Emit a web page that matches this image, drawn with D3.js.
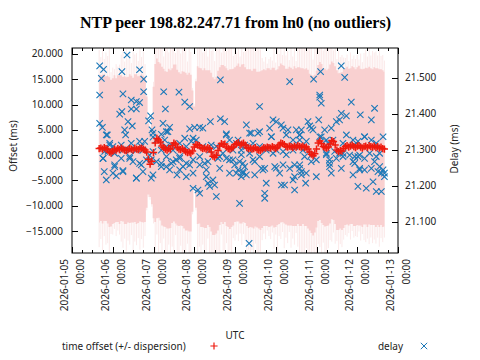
<!DOCTYPE html>
<html><head><meta charset="utf-8">
<script src="https://cdn.jsdelivr.net/npm/d3@7"></script>
<style>body{margin:0;background:#fff}svg{display:block}text{font-family:"Noto Sans",sans-serif;font-size:10px;fill:#222}</style>
</head><body><svg id="c" width="480" height="360"></svg>
<script>
// ---- data (hourly samples from 2026-01-05 16:00 UTC) ----
const startTime = "2026-01-05T16:00:00Z";
const dayTicks = ["2026-01-05","2026-01-06","2026-01-07","2026-01-08","2026-01-09","2026-01-10","2026-01-11","2026-01-12","2026-01-13"];
const offsetTicks = [-15,-10,-5,0,5,10,15,20];
const delayTicks = [21.1,21.2,21.3,21.4,21.5];
const offsetMs = [1.3,1.4,1.2,1.5,1.3,1.1,0.6,0.4,0.8,1.2,1.0,1.3,1.1,1.4,1.2,1.0,0.9,1.1,1.3,1.2,1.0,1.4,1.2,1.1,1.3,
1.4,1.2,1.0,0.6,-0.8,-1.8,-1.2,0.5,2.4,3.3,3.0,2.6,1.8,1.5,1.2,1.0,1.3,1.2,1.9,2.4,2.2,1.5,1.2,1.1,1.3,
1.0,0.7,0.5,0.6,0.4,0.8,1.6,2.1,2.0,1.9,1.5,1.3,1.4,1.2,1.5,1.3,0.6,-0.2,-0.4,0.0,0.9,1.8,2.3,2.1,2.2,
1.6,1.3,1.2,1.4,1.6,2.1,2.3,2.5,2.0,2.2,2.4,2.0,1.5,1.3,1.4,1.2,1.3,1.5,1.1,1.0,0.9,1.2,1.5,1.4,1.6,
1.5,1.4,1.7,1.5,1.3,1.6,2.0,2.4,2.3,2.1,1.7,1.6,1.8,1.7,1.5,1.8,1.6,1.9,1.7,1.6,1.8,1.5,1.6,1.2,0.6,
0.2,-0.1,0.3,1.2,2.4,2.8,2.3,1.7,1.5,1.4,1.6,2.2,2.9,2.7,2.0,1.0,0.7,0.9,0.8,1.3,1.7,1.9,1.6,1.8,2.0,
1.7,1.5,1.8,1.9,1.6,1.4,1.7,1.8,1.5,1.9,1.7,1.6,1.8,1.5,1.7,1.4,1.6,1.3,1.2];
const dispersionMs = [14.6,14.4,14.7,14.5,14.3,14.6,14.8,14.5,14.4,14.6,14.2,14.5,14.7,14.4,14.3,14.6,14.5,14.4,14.7,14.5,14.3,14.6,14.8,14.5,14.4,14.6,14.5,14.2,
11.0,7.0,6.5,8.5,13.0,
15.6,15.8,15.4,15.5,15.7,15.6,15.4,15.5,15.8,15.6,15.3,15.5,15.7,15.4,15.2,15.0,15.3,15.5,15.6,15.4,15.7,15.5,
12.0,8.0,12.5,
15.6,15.4,15.7,15.5,15.8,15.6,15.3,15.5,15.7,15.6,15.4,15.5,15.8,15.6,15.5,15.7,15.4,15.6,15.5,15.8,
15.6,15.5,15.3,15.4,15.6,15.5,15.7,15.6,15.4,15.5,15.7,15.6,15.5,15.8,15.6,15.4,15.5,15.7,15.6,15.5,
15.4,15.6,15.7,15.5,15.6,15.8,15.5,15.4,15.6,15.7,15.5,15.6,15.4,15.5,15.7,15.6,15.5,15.8,15.6,15.5,
15.7,15.6,15.4,15.5,15.6,15.7,15.5,15.6,15.8,15.6,15.5,15.4,15.6,15.7,15.5,15.6,15.4,15.5,15.7,15.6,
15.5,15.6,15.8,15.5,15.4,15.6,15.7,15.5,15.6,15.5,15.4,15.6,15.7,15.5,15.6,15.8,15.5,15.6,15.4,15.5,
15.7,15.6,15.5,15.4,15.6,15.7,15.5,15.6,15.4,15.5,15.3];
const dispersionMaxMs = [19.5,18.0,20.0,17.5,19.0,18.5,20.5,
16.0,16.5,15.8,17.0,16.2,16.8,
18.5,19.5,17.5,20.0,18.0,19.0,17.0,20.5,18.5,19.0,17.5,20.0,18.0,19.5,17.0,
11.5,7.5,7.0,9.0,14.0,
22,19,23,20,22,18,23,21,19,22,20,23,18,21,22,19,23,20,21,18,22,20,
12.5,8.5,13.0,
22,20,23,19,21,22,18,23,20,21,19,22,20,23,18,21,22,19,21,20,22,18,
19,18,19.5,17.5,20,18,19,22,20,
22,20,23,19,21,22,20,18,
17,18,16.5,17.5,18,17,
20,17,21,18,19,17.5,20.5,18,19,17,20,18,19.5,17,20,
22,23,21,22,20,23,21,22,19,23,22,20,21,23,19,22,21,20,
19,20,18,19.5,18,20,18.5,19,18,
17.5,18,17,18.5,17,18,17.5,18,17,18.5,17,
18.5,19,18,19.5,18,19,18.5,19,18,19.5,18,18.5,17.5];
const delayHours = [16.4,0.3,2.6,1.3,13.4,23.8,26.2,0.3,14.0,26.2,38.0,47.0,39.0,50.4,53.3,71.4,18.9,21.9,23.8,18.9,
21.9,12.1,13.4,30.3,29.1,0.3,1.9,17.0,19.5,37.6,41.5,39.6,31.1,15.0,15.6,4.8,53.3,56.2,59.2,61.1,
65.5,71.4,73.9,86.7,74.9,31.7,36.6,33.7,50.4,54.3,6.2,8.1,13.0,18.9,23.8,24.8,3.2,5.2,9.1,14.0,
18.0,21.9,25.8,31.7,36.6,39.6,43.5,47.4,51.3,57.2,61.1,65.1,69.0,72.9,76.8,78.8,81.8,83.7,86.7,2.3,
18.0,24.8,29.7,30.7,33.7,36.6,39.6,42.5,45.4,47.4,49.4,53.3,55.3,59.2,62.1,70.9,74.9,76.8,79.8,82.7,
85.7,3.0,4.2,9.1,8.1,10.1,14.0,21.9,25.8,31.7,45.8,51.3,55.3,58.2,59.2,63.1,64.1,65.1,67.0,68.0,
69.0,80.8,83.7,84.7,86.7,82.7,88.3,
142.6,130.4,144.6,126.3,112.2,129.9,129.9,130.8,148.5,94.5,162.2,153.8,160.3,142.6,145.6,141.6,139.7,123.0,124.0,129.3,
124.9,125.9,132.8,136.7,102.4,104.3,107.3,100.4,94.5,93.5,108.3,111.2,116.1,118.1,119.1,110.2,167.2,156.3,160.3,149.5,
152.4,145.6,130.8,133.8,137.7,143.6,122.0,118.1,114.2,101.4,88.6,90.6,94.5,98.4,104.3,108.3,114.2,120.0,124.9,127.9,
133.8,138.7,141.6,143.6,147.5,150.5,153.4,156.3,159.3,163.2,165.2,167.2,164.2,166.2,168.0,90.6,91.6,95.5,97.5,103.4,
108.3,112.2,115.1,118.1,119.1,119.1,122.0,135.7,135.7,136.7,142.6,149.5,150.5,153.4,156.3,160.3,115.1,114.2,98.4,107.3,
109.2,115.1,121.6,152.4,157.3,161.3,163.2,166.2,97.5,97.5,
4.2,31.7,40.5,55.3,74.9,6.2,26.8,38.6,42.5,66.0,80.8,2.3,13.0,19.9,27.8,39.6,43.5,51.3,59.2,64.1,
70.0,78.8,84.7,9.1,14.0,23.8,36.6,41.5,47.4,55.3,63.1,71.0,76.8,81.8,21.9,30.7,18.0,47.4,
89.6,101.4,118.1,129.9,156.3,85.7,98.4,115.1,134.8,150.5,163.2,83.7,94.5,102.4,110.2,121.0,133.8,143.6,152.4,165.2,
91.6,104.3,118.1,124.9,135.7,149.5,162.2,84.7,96.5,106.3,127.9,153.4,168.0,139.7,88.6];
const delayMs = [21.563,21.533,21.523,21.498,21.517,21.522,21.496,21.452,21.455,21.461,21.461,21.460,21.413,21.432,21.420,21.494,21.438,21.434,21.431,21.413,
21.413,21.399,21.406,21.394,21.380,21.373,21.362,21.378,21.366,21.373,21.362,21.350,21.355,21.355,21.341,21.341,21.358,21.362,21.362,21.360,
21.378,21.386,21.378,21.369,21.344,21.335,21.343,21.327,21.332,21.323,21.318,21.309,21.313,21.318,21.323,21.309,21.295,21.295,21.290,21.299,
21.299,21.299,21.299,21.295,21.299,21.309,21.299,21.318,21.309,21.327,21.309,21.299,21.309,21.290,21.327,21.299,21.327,21.299,21.309,21.276,
21.276,21.258,21.285,21.272,21.267,21.262,21.253,21.262,21.272,21.281,21.253,21.258,21.272,21.281,21.262,21.281,21.276,21.272,21.258,21.267,
21.253,21.239,21.216,21.258,21.235,21.227,21.242,21.221,21.239,21.230,21.230,21.225,21.193,21.188,21.179,21.225,21.207,21.198,21.216,21.202,
21.170,21.235,21.225,21.239,21.230,21.151,21.040,
21.533,21.517,21.501,21.496,21.489,21.452,21.446,21.429,21.432,21.420,21.415,21.397,21.383,21.401,21.394,21.383,21.378,21.378,21.366,21.383,
21.360,21.355,21.355,21.360,21.383,21.378,21.369,21.360,21.350,21.346,21.360,21.355,21.355,21.341,21.355,21.341,21.336,21.336,21.327,21.327,
21.323,21.341,21.336,21.327,21.327,21.318,21.323,21.327,21.327,21.336,21.346,21.318,21.309,21.299,21.299,21.295,21.299,21.299,21.285,21.272,
21.290,21.295,21.290,21.281,21.285,21.281,21.285,21.276,21.290,21.281,21.253,21.244,21.239,21.235,21.225,21.272,21.230,21.248,21.248,21.253,
21.258,21.248,21.258,21.248,21.239,21.230,21.235,21.272,21.253,21.235,21.248,21.230,21.262,21.248,21.244,21.248,21.225,21.216,21.207,21.202,
21.202,21.188,21.207,21.198,21.193,21.211,21.184,21.184,21.179,21.165,
21.341,21.346,21.350,21.332,21.341,21.313,21.323,21.327,21.313,21.313,21.318,21.276,21.276,21.267,21.272,21.281,21.267,21.262,21.258,21.267,
21.276,21.272,21.262,21.253,21.239,21.262,21.253,21.244,21.244,21.235,21.244,21.248,21.235,21.244,21.221,21.221,21.281,21.276,
21.346,21.336,21.341,21.336,21.336,21.313,21.304,21.309,21.318,21.313,21.318,21.286,21.281,21.290,21.286,21.281,21.286,21.290,21.281,21.290,
21.267,21.249,21.258,21.267,21.262,21.267,21.267,21.235,21.244,21.235,21.225,21.244,21.235,21.276,21.290];

// ---- layout ----
const L = 72, R = 398, T = 48, B = 253;
const svg = d3.select("#c");
const t0 = new Date(startTime);
const hourToDate = h => new Date(t0.getTime() + h * 3600e3);
const x = d3.scaleUtc().domain([new Date(dayTicks[0] + "T00:00:00Z"), new Date(dayTicks[dayTicks.length - 1] + "T00:00:00Z")]).range([L, R]);
const yL = d3.scaleLinear().domain([-19.35, 21.186]).range([B, T]);
const yR = d3.scaleLinear().domain([21.0131, 21.5825]).range([B, T]);

svg.append("defs").append("clipPath").attr("id", "clip")
  .append("rect").attr("x", L).attr("y", T).attr("width", R - L).attr("height", B - T);

const samples = offsetMs.map((o, i) => ({ t: hourToDate(i), o, d: dispersionMs[i], m: dispersionMaxMs[i] }));
const plot = svg.append("g").attr("clip-path", "url(#clip)");

// dispersion spikes
plot.append("g").selectAll("line").data(samples).join("line")
  .attr("x1", d => x(d.t)).attr("x2", d => x(d.t))
  .attr("y1", d => yL(d.o + d.m)).attr("y2", d => yL(d.o - d.m))
  .attr("stroke", "#f5c4c4").attr("stroke-opacity", 0.38).attr("stroke-width", 1);
// dispersion core band
plot.append("path").datum(samples)
  .attr("d", d3.area().x(d => x(d.t)).y0(d => yL(d.o - d.d)).y1(d => yL(d.o + d.d)).curve(d3.curveStep))
  .attr("fill", "#f9d0d0");

// delay crosses
const cross = "M-3.2,-3.2L3.2,3.2M-3.2,3.2L3.2,-3.2";
const plus = "M-3.6,0H3.6M0,-3.6V3.6";
const blue = "#1a78b8", red = "#ee1a0e";
plot.append("g").selectAll("path").data(delayHours.map((h, i) => ({ t: hourToDate(h), v: delayMs[i] }))).join("path")
  .attr("transform", d => `translate(${x(d.t)},${yR(d.v)})`)
  .attr("d", cross).attr("stroke", blue).attr("stroke-width", 1.1).attr("fill", "none");
// offset pluses
plot.append("g").selectAll("path").data(samples).join("path")
  .attr("transform", d => `translate(${x(d.t)},${yL(d.o)})`)
  .attr("d", plus).attr("stroke", red).attr("stroke-width", 1.5).attr("fill", "none");

// ---- frame and ticks ----
const ax = svg.append("g").attr("stroke", "#000").attr("stroke-width", 1);
ax.append("rect").attr("x", L).attr("y", T).attr("width", R - L).attr("height", B - T).attr("fill", "none");
const minor = d3.utcHour.every(6).range(x.domain()[0], new Date(x.domain()[1].getTime() + 1));
minor.forEach(d => {
  const isMajor = d.getUTCHours() === 0;
  const len = isMajor ? 6 : 3;
  const px = Math.round(x(d)) + 0.5;
  ax.append("line").attr("x1", px).attr("x2", px).attr("y1", B).attr("y2", B - len);
  ax.append("line").attr("x1", px).attr("x2", px).attr("y1", T).attr("y2", T + len);
});
offsetTicks.forEach(v => {
  const py = Math.round(yL(v)) + 0.5;
  ax.append("line").attr("x1", L).attr("x2", L + 6).attr("y1", py).attr("y2", py);
});
delayTicks.forEach(v => {
  const py = Math.round(yR(v)) + 0.5;
  ax.append("line").attr("x1", R).attr("x2", R - 6).attr("y1", py).attr("y2", py);
});

const fmt = d3.format(".3f");
svg.append("g").selectAll("text").data(offsetTicks).join("text")
  .attr("x", 63).attr("y", d => yL(d)).attr("dy", "0.35em").attr("text-anchor", "end").text(d => fmt(d));
svg.append("g").selectAll("text").data(delayTicks).join("text")
  .attr("x", 405).attr("y", d => yR(d)).attr("dy", "0.35em").attr("text-anchor", "start").text(d => fmt(d));

const xl = svg.append("g");
dayTicks.forEach(s => {
  const px = x(new Date(s + "T00:00:00Z"));
  xl.append("text").attr("transform", `translate(${px - 7.5},259) rotate(-90)`).attr("dy", "0.35em")
    .attr("text-anchor", "end").text(s);
  xl.append("text").attr("transform", `translate(${px + 8.5},259) rotate(-90)`).attr("dy", "0.35em")
    .attr("text-anchor", "end").text("00:00");
});

// ---- titles & labels ----
svg.append("text").attr("x", 235.5).attr("y", 28).attr("text-anchor", "middle")
  .style("font-family", "'Liberation Serif',serif").style("font-size", "16px").style("font-weight", "bold").style("fill", "#000")
  .text("NTP peer 198.82.247.71 from ln0 (no outliers)");
svg.append("text").attr("transform", "translate(13,146) rotate(-90)").attr("dy", "0.35em").attr("text-anchor", "middle").text("Offset (ms)");
svg.append("text").attr("transform", "translate(454,149) rotate(-90)").attr("dy", "0.35em").attr("text-anchor", "middle").text("Delay (ms)");
svg.append("text").attr("x", 235).attr("y", 335).attr("dy", "0.35em").attr("text-anchor", "middle").text("UTC");

// legend
svg.append("text").attr("x", 62).attr("y", 346).attr("dy", "0.35em").text("time offset (+/- dispersion)");
svg.append("path").attr("transform", "translate(214,346)").attr("d", plus).attr("stroke", red).attr("stroke-width", 1.2);
svg.append("text").attr("x", 403).attr("y", 346).attr("dy", "0.35em").attr("text-anchor", "end").text("delay");
svg.append("path").attr("transform", "translate(424,346)").attr("d", cross).attr("stroke", blue).attr("stroke-width", 1);
</script></body></html>
